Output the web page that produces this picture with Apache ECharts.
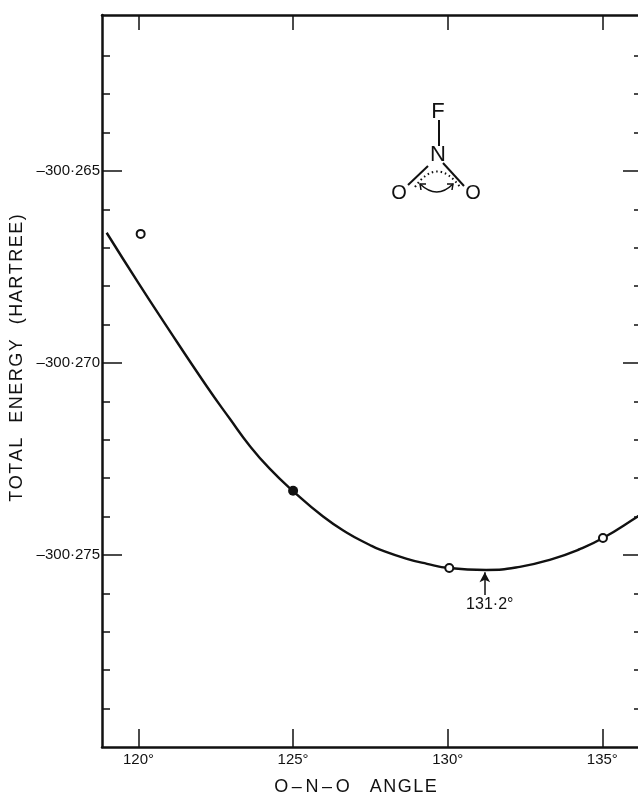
<!DOCTYPE html>
<html>
<head>
<meta charset="utf-8">
<style>html,body{margin:0;padding:0;background:#fff;overflow:hidden}#c{width:638px;height:795px}</style>
<script src="https://cdn.jsdelivr.net/npm/echarts@6/dist/echarts.min.js"></script>
</head>
<body>
<div id="c"></div>
<script>
const curveAngles = [118.97,119.99,120.80,122.20,122.96,123.60,124.25,124.99,125.97,126.74,127.48,127.81,128.68,129.33,130.04,131.24,132.33,133.40,134.27,135.02,136.12,136.30];
const curveEnergies = [-300.26661,-300.26791,-300.26891,-300.27060,-300.27146,-300.27216,-300.27276,-300.27333,-300.27400,-300.27442,-300.27474,-300.27486,-300.27510,-300.27523,-300.27534,-300.27539,-300.27531,-300.27510,-300.27485,-300.27456,-300.27401,-300.27391];
const openPoints = [[120.07,-300.26664],[130.05,-300.27534],[135.02,-300.27456]];
const filledPoints = [[125,-300.27333]];
const xTicks = [120,125,130,135];
const yMajor = [-300.265,-300.27,-300.275];
const yMinor = [-300.279,-300.278,-300.277,-300.276,-300.274,-300.273,-300.272,-300.271,-300.269,-300.268,-300.267,-300.266,-300.264,-300.263,-300.262];
const minimumAngle = 131.2;
const minimumLabel = '131·2°';
const xTitle = 'O\u2009–\u2009N\u2009–\u2009O    A\u200AN\u200AG\u200AL\u200AE';
const yTitle = 'T\u200AO\u200AT\u200AA\u200AL   E\u200AN\u200AE\u200AR\u200AG\u200AY   (\u200AH\u200AA\u200AR\u200AT\u200AR\u200AE\u200AE\u200A)';

const ink = '#111';
const X0 = 118.82, X1 = 136.25, Y0 = -300.28, Y1 = -300.26094;
const font = '"Liberation Sans", Arial, sans-serif';
const chart = echarts.init(document.getElementById('c'), null, {renderer: 'canvas'});

function yAxis(pos, vals, len, line, labels, name) {
  return {
    type: 'value', position: pos, min: Y0, max: Y1, scale: true,
    splitLine: {show: false},
    axisLine: {show: line, lineStyle: {color: ink, width: 2.5}},
    axisTick: {show: true, inside: true, length: len, customValues: vals, lineStyle: {color: ink, width: 1.5}},
    axisLabel: labels
      ? {show: true, customValues: vals, margin: 2, fontFamily: font, fontSize: 15, color: ink,
         formatter: v => v.toFixed(3).replace('.', '·').replace('-', '–')}
      : {show: false},
    name: name || '', nameLocation: 'middle', nameGap: 75, nameRotate: 90,
    nameTextStyle: {fontFamily: font, fontSize: 18, color: ink, padding: [0, 0, 0, 46]}
  };
}

chart.setOption({
  animation: false,
  backgroundColor: '#fff',
  grid: {left: 102, top: 15, width: 539, height: 732, containLabel: false, outerBoundsMode: 'none'},
  xAxis: [
    {type: 'value', position: 'bottom', min: X0, max: X1, scale: true, splitLine: {show: false},
     axisLine: {show: true, onZero: false, lineStyle: {color: ink, width: 2.5}},
     axisTick: {inside: true, length: 18, customValues: xTicks, lineStyle: {color: ink, width: 1.5}},
     axisLabel: {customValues: xTicks, margin: 5, fontFamily: font, fontSize: 15, color: ink, formatter: v => v + '°'},
     name: xTitle, nameLocation: 'middle', nameGap: 31,
     nameTextStyle: {fontFamily: font, fontSize: 18, color: ink, padding: [0, 32, 0, 0]}},
    {type: 'value', position: 'top', min: X0, max: X1, scale: true, splitLine: {show: false},
     axisLine: {show: true, onZero: false, lineStyle: {color: ink, width: 2.5}},
     axisTick: {inside: true, length: 15, customValues: xTicks, lineStyle: {color: ink, width: 1.5}},
     axisLabel: {show: false}}
  ],
  yAxis: [
    yAxis('left', yMajor, 20, true, true, yTitle),
    yAxis('left', yMinor, 8, false, false),
    yAxis('right', yMajor, 18, true, false),
    yAxis('right', yMinor, 7, false, false)
  ],
  series: [
    {type: 'line', name: 'curve', smooth: 0.5, showSymbol: false, clip: false,
     data: curveAngles.map((a, i) => [a, curveEnergies[i]]),
     lineStyle: {color: ink, width: 2.4}, z: 2,
     markLine: {silent: true, animation: false, symbol: ['none', 'arrow'], symbolSize: [8, 10],
       lineStyle: {color: ink, width: 1.5, type: 'solid'}, label: {show: false},
       data: [[{coord: [minimumAngle, -300.27604]}, {coord: [minimumAngle, -300.27545]}]]}},
    {type: 'scatter', name: 'open', data: openPoints, symbol: 'circle', symbolSize: 8,
     itemStyle: {color: '#fff', borderColor: ink, borderWidth: 2, opacity: 1}, z: 5},
    {type: 'scatter', name: 'filled', data: filledPoints, symbol: 'circle', symbolSize: 10,
     itemStyle: {color: ink, opacity: 1}, z: 5},
    {type: 'scatter', name: 'label', data: [[minimumAngle + 0.16, -300.27628]], symbolSize: 1,
     itemStyle: {opacity: 0},
     label: {show: true, position: 'inside', formatter: minimumLabel, fontFamily: font, fontSize: 16, color: ink, opacity: 1}, z: 6}
  ],
  graphic: {elements: [
    {type: 'text', x: 438, y: 112, style: {text: 'F', fontFamily: font, fontSize: 22, fill: ink, align: 'center', verticalAlign: 'middle'}},
    {type: 'text', x: 438, y: 155, style: {text: 'N', fontFamily: font, fontSize: 22, fill: ink, align: 'center', verticalAlign: 'middle'}},
    {type: 'text', x: 399, y: 193, style: {text: 'O', fontFamily: font, fontSize: 20, fill: ink, align: 'center', verticalAlign: 'middle'}},
    {type: 'text', x: 473, y: 193, style: {text: 'O', fontFamily: font, fontSize: 20, fill: ink, align: 'center', verticalAlign: 'middle'}},
    {type: 'line', shape: {x1: 439, y1: 120, x2: 439, y2: 146}, style: {stroke: ink, lineWidth: 2}},
    {type: 'line', shape: {x1: 428, y1: 166, x2: 408, y2: 185}, style: {stroke: ink, lineWidth: 2}},
    {type: 'line', shape: {x1: 443, y1: 163, x2: 464, y2: 186}, style: {stroke: ink, lineWidth: 2}},
    {type: 'bezierCurve', shape: {x1: 415, y1: 187, cpx1: 437, cpy1: 156, x2: 460, y2: 187}, style: {stroke: ink, fill: null, lineWidth: 2, lineDash: [1.5, 3]}},
    {type: 'bezierCurve', shape: {x1: 420, y1: 184, cpx1: 437, cpy1: 200, x2: 453, y2: 184}, style: {stroke: ink, fill: null, lineWidth: 1.5}},
    {type: 'polyline', shape: {points: [[421, 190], [420, 184], [426, 184]]}, style: {stroke: ink, fill: null, lineWidth: 1.5}},
    {type: 'polyline', shape: {points: [[452, 190], [453, 184], [447, 184]]}, style: {stroke: ink, fill: null, lineWidth: 1.5}}
  ]}
});
</script>
</body>
</html>
